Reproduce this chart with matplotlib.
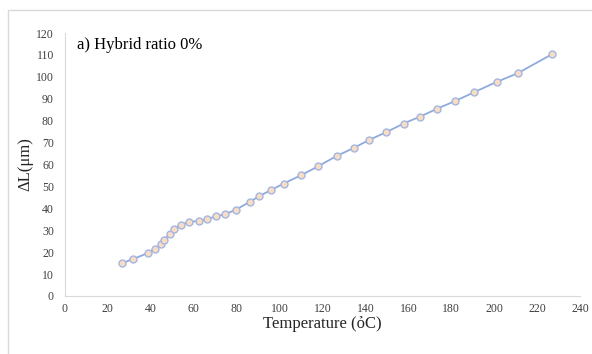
import matplotlib.pyplot as plt
from matplotlib.patches import Rectangle

# temperature (C) and elongation (um)
temperature = [26.7, 31.8, 38.7, 41.9, 44.6, 46.3, 48.8, 50.9, 53.9, 57.8,
               62.3, 66.3, 70.2, 74.6, 79.7, 86.2, 90.4, 96.1, 101.9, 110.0,
               118.0, 126.6, 134.7, 141.5, 149.6, 157.8, 165.6, 173.5, 181.9,
               190.7, 201.2, 210.9, 226.9]
delta_l = [15.0, 16.9, 19.6, 21.5, 23.5, 25.6, 28.3, 30.6, 32.6, 33.7,
           34.3, 35.0, 36.3, 37.3, 39.4, 43.0, 45.5, 48.4, 51.3, 55.1,
           59.2, 63.9, 67.6, 71.1, 74.7, 78.7, 81.9, 85.5, 89.0,
           93.0, 97.7, 101.6, 110.3]
x_ticks = list(range(0, 241, 20))
y_ticks = list(range(0, 121, 10))

plt.rcParams['font.family'] = ['Liberation Serif', 'DejaVu Serif']

fig = plt.figure(figsize=(5.92, 3.54), dpi=100)
# chart area border (only top/left visible in the crop)
fig.patches.append(Rectangle((8 / 592, -0.1), 1.2, 1.1 - 10 / 354,
                             transform=fig.transFigure, fill=False,
                             edgecolor='#d9d9d9', linewidth=1.0))

ax = fig.add_axes([65 / 592, 58 / 354, 515 / 592, 263 / 354])
ax.plot(temperature, delta_l, color='#8faadc', linewidth=1.3, marker='o',
        markersize=5, markerfacecolor='#f8dcc4', markeredgecolor='#a4b6e0',
        markeredgewidth=1.0)

ax.set_xlim(0, 240)
ax.set_ylim(0, 120)
ax.set_xticks(x_ticks)
ax.set_yticks(y_ticks)
ax.tick_params(length=0, labelsize=8.5, colors='#404040')
ax.tick_params(axis='y', pad=8)
ax.tick_params(axis='x', pad=5)
for s in ['top', 'right']:
    ax.spines[s].set_visible(False)
for s in ['left', 'bottom']:
    ax.spines[s].set_color('#d9d9d9')

ax.set_xlabel('Temperature (ỏC)', fontsize=12, color='#262626', labelpad=1)
ax.set_ylabel('ΔL(μm)', fontsize=12, color='#262626', labelpad=2)
ax.text(77 / 592, 1 - 45 / 354, 'a) Hybrid ratio 0%', transform=fig.transFigure,
        fontsize=12, color='black', va='center', ha='left')

fig.savefig('out.png', dpi=100)
